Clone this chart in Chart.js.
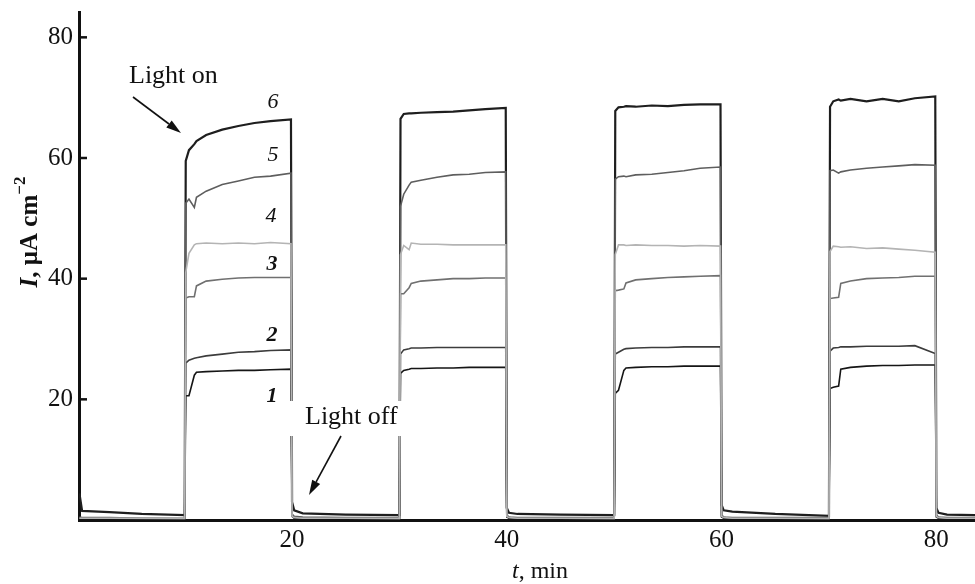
<!DOCTYPE html>
<html>
<head>
<meta charset="utf-8">
<script src="https://cdn.jsdelivr.net/npm/chart.js@4.4.1/dist/chart.umd.min.js"></script>
<style>
  html, body { margin: 0; padding: 0; background: #fff; }
  #wrap { width: 975px; height: 584px; }
</style>
</head>
<body>
<div id="wrap"><canvas id="photoChart" width="975" height="584"></canvas></div>
<script>
// time, min (shared by all curves): dark / light on / dark / ...
const times = [
  0.2, 0.45, 3, 6,
  10, 10.1, 10.4, 10.9, 11.1, 12, 13.5, 15, 16.5, 18, 19.9,
  20, 20.2, 21, 25,
  30, 30.1, 30.4, 30.9, 31.1, 32, 33.5, 35, 36.5, 38, 39.9,
  40, 40.2, 41, 45,
  50, 50.1, 50.4, 50.9, 51.1, 52, 53.5, 55, 56.5, 58, 59.9,
  60, 60.2, 61, 65,
  70, 70.1, 70.4, 70.9, 71.1, 72, 73.5, 75, 76.5, 78, 79.9,
  80, 80.2, 81, 83.6
];

// photocurrent I, uA cm-2
const curve1 = [
  0.2, 0.2, 0.2, 0.2,
  0.1, 20.6, 20.6, 24.0, 24.5, 24.6, 24.7, 24.8, 24.8, 24.9, 25.0,
  0.6, 0.3, 0.2, 0.2,
  0.1, 24.3, 24.8, 25.0, 25.1, 25.1, 25.2, 25.2, 25.3, 25.3, 25.3,
  0.5, 0.3, 0.2, 0.2,
  0.1, 21.0, 21.5, 24.8, 25.2, 25.3, 25.4, 25.4, 25.5, 25.5, 25.5,
  0.5, 0.3, 0.2, 0.2,
  0.1, 21.8, 22.0, 22.2, 25.0, 25.3, 25.5, 25.6, 25.6, 25.7, 25.7,
  0.5, 0.3, 0.2, 0.2
];
const curve2 = [
  0.3, 0.3, 0.3, 0.2,
  0.2, 26.0, 26.5, 26.8, 26.9, 27.2, 27.5, 27.8, 27.9, 28.1, 28.2,
  0.7, 0.4, 0.3, 0.3,
  0.2, 27.5, 28.2, 28.4, 28.5, 28.5, 28.6, 28.6, 28.6, 28.6, 28.6,
  0.6, 0.4, 0.3, 0.3,
  0.2, 27.5, 27.8, 28.3, 28.4, 28.5, 28.6, 28.6, 28.7, 28.7, 28.7,
  0.6, 0.4, 0.3, 0.3,
  0.2, 28.0, 28.5, 28.6, 28.7, 28.7, 28.8, 28.8, 28.8, 28.9, 27.6,
  0.6, 0.4, 0.3, 0.3
];
const curve3 = [
  0.3, 0.3, 0.3, 0.3,
  0.2, 36.8, 37.0, 37.0, 38.8, 39.6, 39.9, 40.1, 40.2, 40.2, 40.2,
  0.6, 0.4, 0.3, 0.3,
  0.2, 37.5, 37.5, 38.5, 39.2, 39.6, 39.8, 40.0, 40.0, 40.1, 40.1,
  0.6, 0.4, 0.3, 0.3,
  0.2, 38.0, 38.1, 38.3, 39.3, 39.8, 40.0, 40.2, 40.3, 40.4, 40.5,
  0.6, 0.4, 0.3, 0.3,
  0.2, 36.7, 36.8, 36.9, 39.2, 39.6, 40.0, 40.1, 40.2, 40.4, 40.4,
  0.6, 0.4, 0.3, 0.3
];
const curve4 = [
  0.3, 0.3, 0.3, 0.3,
  0.3, 41.0, 44.2, 45.6, 45.8, 45.9, 45.8, 45.9, 45.8, 46.0, 45.8,
  0.6, 0.4, 0.3, 0.3,
  0.3, 44.0, 45.5, 44.8, 45.9, 45.7, 45.7, 45.6, 45.6, 45.6, 45.6,
  0.6, 0.4, 0.3, 0.3,
  0.3, 44.0, 45.6, 45.6, 45.5, 45.6, 45.5, 45.5, 45.4, 45.5, 45.4,
  0.6, 0.4, 0.3, 0.3,
  0.3, 44.5, 45.4, 45.3, 45.2, 45.3, 45.0, 45.1, 44.9, 44.7, 44.4,
  0.6, 0.4, 0.3, 0.3
];
const curve5 = [
  0.5, 0.4, 0.4, 0.3,
  0.3, 52.5, 53.2, 51.8, 53.5, 54.5, 55.6, 56.2, 56.8, 57.0, 57.5,
  1.0, 0.6, 0.5, 0.4,
  0.4, 52.0, 54.0, 55.5, 56.0, 56.3, 56.8, 57.2, 57.3, 57.6, 57.7,
  0.8, 0.5, 0.4, 0.4,
  0.4, 56.5, 56.9, 57.0, 56.9, 57.2, 57.3, 57.6, 57.9, 58.3, 58.5,
  0.8, 0.5, 0.4, 0.4,
  0.4, 57.9, 58.0, 57.5, 57.7, 58.0, 58.3, 58.5, 58.7, 58.9, 58.8,
  0.8, 0.5, 0.4, 0.4
];
const curve6 = [
  4.4, 1.5, 1.3, 1.0,
  0.8, 59.5, 61.3, 62.3, 62.8, 63.8, 64.7, 65.3, 65.8, 66.1, 66.4,
  3.0, 1.6, 1.1, 0.9,
  0.8, 66.5, 67.3, 67.4, 67.4, 67.5, 67.6, 67.7, 67.9, 68.1, 68.3,
  2.0, 1.2, 1.0, 0.9,
  0.8, 67.8, 68.4, 68.5, 68.6, 68.5, 68.7, 68.6, 68.8, 68.9, 68.9,
  2.5, 1.6, 1.4, 1.0,
  0.7, 68.5, 69.4, 69.7, 69.5, 69.8, 69.4, 69.8, 69.4, 69.9, 70.2,
  2.0, 1.2, 0.9, 0.8
];

const xTicks = [20, 40, 60, 80];
const yTicks = [20, 40, 60, 80];

const SERIF = "'Liberation Serif', 'Times New Roman', serif";

document.addEventListener("DOMContentLoaded", function () {
  const ctx = document.getElementById("photoChart").getContext("2d");

  function series(values, color, width) {
    return {
      data: times.map((t, i) => ({ x: t, y: values[i] })),
      borderColor: color,
      borderWidth: width,
      pointRadius: 0,
      tension: 0,
      fill: false
    };
  }

  // arrow with a filled head at (x2, y2)
  function arrow(c, x1, y1, x2, y2) {
    const a = Math.atan2(y2 - y1, x2 - x1);
    const len = 15, half = 4.5;
    const bx = x2 - len * Math.cos(a), by = y2 - len * Math.sin(a);
    c.strokeStyle = "#111";
    c.lineWidth = 1.6;
    c.beginPath();
    c.moveTo(x1, y1);
    c.lineTo(bx, by);
    c.stroke();
    c.fillStyle = "#111";
    c.beginPath();
    c.moveTo(x2, y2);
    c.lineTo(bx + half * Math.sin(a), by - half * Math.cos(a));
    c.lineTo(bx - half * Math.sin(a), by + half * Math.cos(a));
    c.closePath();
    c.fill();
  }

  const decorations = {
    id: "decorations",
    afterDraw(chart) {
      const c = chart.ctx;
      const area = chart.chartArea;
      const ys = chart.scales.y;
      c.save();

      // inward ticks on the current axis
      c.strokeStyle = "#111";
      c.lineWidth = 2.5;
      yTicks.forEach(v => {
        const py = ys.getPixelForValue(v);
        c.beginPath();
        c.moveTo(area.left, py);
        c.lineTo(area.left + 8, py);
        c.stroke();
      });

      // curve numbers
      c.fillStyle = "#111";
      c.textAlign = "center";
      c.textBaseline = "middle";
      const nums = [
        ["6", 273, 102, false], ["5", 273, 155, false], ["4", 271, 216, false],
        ["3", 272, 264, true], ["2", 272, 335, true], ["1", 272, 396, true]
      ];
      nums.forEach(([s, x, y, b]) => {
        c.font = (b ? "italic bold " : "italic ") + "22px " + SERIF;
        c.fillText(s, x, y);
      });

      // Light off label with white box
      c.fillStyle = "#fff";
      c.fillRect(283, 401, 120, 35);
      c.fillStyle = "#111";
      c.textAlign = "left";
      c.textBaseline = "alphabetic";
      c.font = "26px " + SERIF;
      c.fillText("Light off", 305, 424);
      c.fillText("Light on", 129, 83);
      arrow(c, 133, 97, 181, 133);
      arrow(c, 341, 436, 309, 495);

      // x title: t, min
      c.font = "italic 24px " + SERIF;
      const tW = c.measureText("t").width;
      c.font = "24px " + SERIF;
      const rW = c.measureText(", min").width;
      let x0 = 540 - (tW + rW) / 2;
      c.font = "italic 24px " + SERIF;
      c.fillText("t", x0, 578);
      c.font = "24px " + SERIF;
      c.fillText(", min", x0 + tW, 578);

      // y title: I, uA cm-2 (rotated)
      c.translate(37, 232);
      c.rotate(-Math.PI / 2);
      const parts = [
        ["I", "italic bold 25px " + SERIF, 0],
        [", \u03bcA cm", "bold 25px " + SERIF, 0],
        ["\u22122", "bold 17px " + SERIF, -12]
      ];
      let total = 0;
      parts.forEach(p => { c.font = p[1]; total += c.measureText(p[0]).width; });
      let px = -total / 2;
      parts.forEach(p => {
        c.font = p[1];
        c.fillText(p[0], px, p[2]);
        px += c.measureText(p[0]).width;
      });

      c.restore();
    }
  };

  new Chart(ctx, {
    type: "line",
    data: {
      datasets: [
        series(curve4, "#b4b4b4", 1.6),
        series(curve3, "#707070", 1.6),
        series(curve5, "#5e5e5e", 1.6),
        series(curve2, "#3c3c3c", 1.6),
        series(curve1, "#151515", 1.6),
        series(curve6, "#1e1e1e", 2.2)
      ]
    },
    options: {
      responsive: false,
      animation: false,
      devicePixelRatio: 1,
      layout: { padding: { top: 12, right: 0, left: 0, bottom: 0 } },
      plugins: {
        legend: { display: false },
        tooltip: { enabled: false }
      },
      scales: {
        x: {
          type: "linear",
          min: 0.16,
          max: 83.6,
          border: { display: true, color: "#111", width: 3 },
          grid: { display: true, drawOnChartArea: false, drawTicks: false },
          ticks: {
            color: "#111",
            font: { family: SERIF, size: 25 },
            padding: 5,
            maxRotation: 0
          },
          afterBuildTicks: s => { s.ticks = xTicks.map(v => ({ value: v })); },
          afterFit: s => {
            s.height = 64;
            s.paddingLeft = 0;
            s.paddingRight = 0;
          }
        },
        y: {
          type: "linear",
          min: 0,
          max: 84.2,
          border: { display: true, color: "#111", width: 3 },
          grid: { display: true, drawOnChartArea: false, drawTicks: false },
          ticks: {
            color: "#111",
            font: { family: SERIF, size: 25 },
            padding: 6
          },
          afterBuildTicks: s => { s.ticks = yTicks.map(v => ({ value: v })); },
          afterFit: s => {
            s.width = 79;
            s.paddingTop = 0;
            s.paddingBottom = 0;
          }
        }
      }
    },
    plugins: [decorations]
  });
});
</script>
</body>
</html>
